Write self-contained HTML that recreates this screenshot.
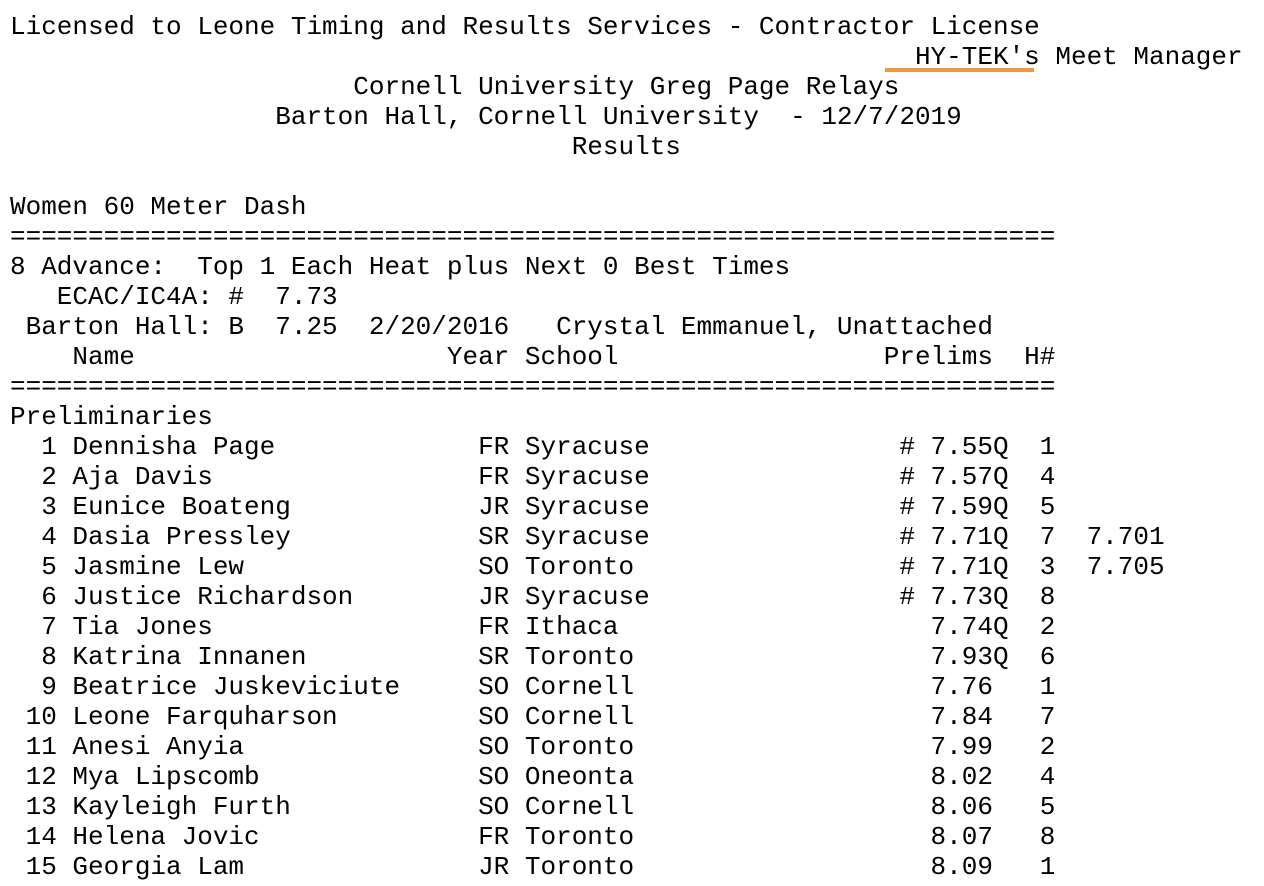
<!DOCTYPE html>
<html><head><meta charset="utf-8"><style>
html,body{margin:0;padding:0;background:#fff;width:1264px;height:886px;overflow:hidden}
pre{position:absolute;left:10px;top:12px;margin:0;font-family:"Liberation Mono",monospace;font-size:26px;line-height:30px;color:#000}
.ul{position:absolute;left:885px;top:68px;width:149px;height:4px;background:#f0993a}
</style></head><body>
<pre>Licensed to Leone Timing and Results Services - Contractor License
                                                          HY-TEK's Meet Manager
                      Cornell University Greg Page Relays
                 Barton Hall, Cornell University  - 12/7/2019
                                    Results

Women 60 Meter Dash
===================================================================
8 Advance:  Top 1 Each Heat plus Next 0 Best Times
   ECAC/IC4A: #  7.73
 Barton Hall: B  7.25  2/20/2016   Crystal Emmanuel, Unattached
    Name                    Year School                 Prelims  H#
===================================================================
Preliminaries
  1 Dennisha Page             FR Syracuse                # 7.55Q  1
  2 Aja Davis                 FR Syracuse                # 7.57Q  4
  3 Eunice Boateng            JR Syracuse                # 7.59Q  5
  4 Dasia Pressley            SR Syracuse                # 7.71Q  7  7.701
  5 Jasmine Lew               SO Toronto                 # 7.71Q  3  7.705
  6 Justice Richardson        JR Syracuse                # 7.73Q  8
  7 Tia Jones                 FR Ithaca                    7.74Q  2
  8 Katrina Innanen           SR Toronto                   7.93Q  6
  9 Beatrice Juskeviciute     SO Cornell                   7.76   1
 10 Leone Farquharson         SO Cornell                   7.84   7
 11 Anesi Anyia               SO Toronto                   7.99   2
 12 Mya Lipscomb              SO Oneonta                   8.02   4
 13 Kayleigh Furth            SO Cornell                   8.06   5
 14 Helena Jovic              FR Toronto                   8.07   8
 15 Georgia Lam               JR Toronto                   8.09   1</pre>
<div class="ul"></div>
</body></html>
